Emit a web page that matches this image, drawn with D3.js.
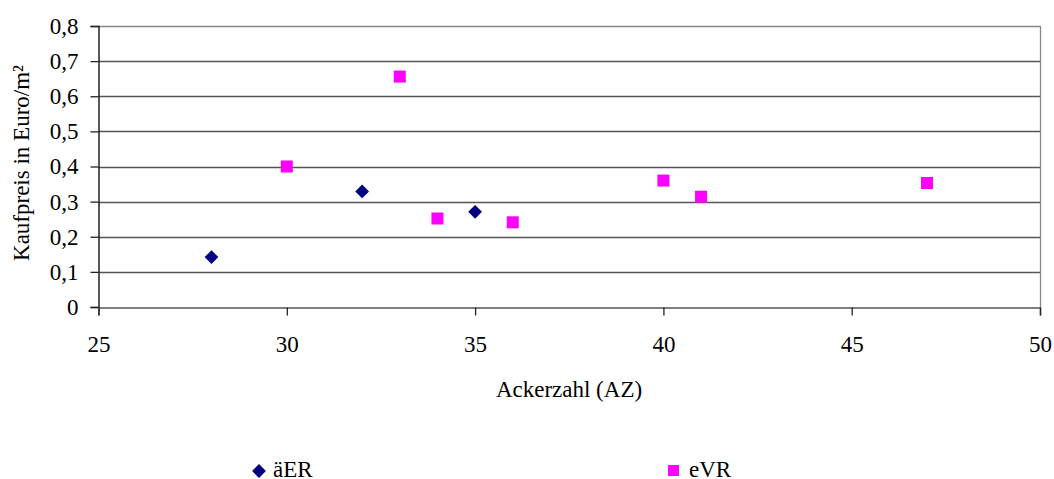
<!DOCTYPE html>
<html>
	<head>
		<meta charset="utf-8">
		<title>Kaufpreis / Ackerzahl</title>
		<style>
			body { margin: 0; background: #fff; }
			text { font-family: "Liberation Serif", "Times New Roman", serif; fill: #000; }
			.tick text { font-size: 23px; }
			.title { font-size: 23px; }
			.legend text { font-size: 23px; }
		</style>
	</head>
	<body>
		<script src="https://cdn.jsdelivr.net/npm/d3@7/dist/d3.min.js"></script>
		<script>
			// data
			var aerX = [28, 32, 35];
			var aerY = [0.142, 0.329, 0.271];
			var evrX = [30, 33, 34, 36, 40, 41, 47];
			var evrY = [0.40, 0.656, 0.252, 0.241, 0.36, 0.314, 0.353];
			var xTicks = [25, 30, 35, 40, 45, 50];
			var yTicks = [0, 0.1, 0.2, 0.3, 0.4, 0.5, 0.6, 0.7, 0.8];

			var width = 1054;
			var height = 479;
			var plotL = 98.5, plotR = 1040, plotT = 26, plotB = 307;

			var svg = d3.select('body').append('svg')
						.attr('width', width)
						.attr('height', height);

			var x = d3.scaleLinear().domain([25, 50]).range([plotL, plotR]);
			var y = d3.scaleLinear().domain([0, 0.8]).range([plotB, plotT]);

			var fmt = function(d) { return d === 0 ? '0' : d3.format('.1f')(d).replace('.', ','); };

			// grid lines
			svg.append('g').selectAll('line').data(yTicks.slice(1, -1))
				.enter().append('line')
				.attr('x1', plotL).attr('x2', plotR)
				.attr('y1', function(d) { return Math.round(y(d)) + 0.5; })
				.attr('y2', function(d) { return Math.round(y(d)) + 0.5; })
				.attr('stroke', '#555').attr('stroke-width', 1.3);

			// plot border (top/right)
			svg.append('path')
				.attr('d', 'M' + plotL + ',' + (plotT + 0.5) + 'H' + (plotR + 0.5) + 'V' + plotB)
				.attr('fill', 'none').attr('stroke', '#888').attr('stroke-width', 1.3);

			var yAxis = svg.append('g')
				.attr('transform', 'translate(' + plotL + ',0)')
				.call(d3.axisLeft(y).tickValues(yTicks).tickFormat(fmt).tickSize(8).tickPadding(12));
			var xAxis = svg.append('g')
				.attr('transform', 'translate(0,' + (plotB + 0.5) + ')')
				.call(d3.axisBottom(x).tickValues(xTicks).tickFormat(d3.format('d')).tickSize(8).tickPadding(20));

			[yAxis, xAxis].forEach(function(a) {
				a.select('.domain').attr('stroke', '#222').attr('stroke-width', 1.5);
				a.selectAll('.tick line').attr('stroke', '#222').attr('stroke-width', 1.3);
				a.selectAll('.tick text').attr('font-family', null).attr('font-size', null);
			});
			xAxis.select('.domain').attr('stroke', '#555');

			// axis titles
			svg.append('text').attr('class', 'title')
				.attr('x', 569).attr('y', 397)
				.attr('text-anchor', 'middle')
				.text('Ackerzahl (AZ)');
			svg.append('text').attr('class', 'title')
				.attr('transform', 'translate(29,163) rotate(-90)')
				.attr('text-anchor', 'middle')
				.text('Kaufpreis in Euro/m²');

			var diamond = d3.symbol().type(d3.symbolSquare).size(95);

			// series
			svg.append('g').selectAll('path').data(aerX)
				.enter().append('path')
				.attr('d', diamond)
				.attr('transform', function(d, i) { return 'translate(' + x(d) + ',' + y(aerY[i]) + ') rotate(45)'; })
				.attr('fill', '#000080');

			svg.append('g').selectAll('rect').data(evrX)
				.enter().append('rect')
				.attr('x', function(d) { return x(d) - 6; })
				.attr('y', function(d, i) { return y(evrY[i]) - 6; })
				.attr('width', 12).attr('height', 12)
				.attr('fill', '#ff00ff');

			// legend
			var legend = svg.append('g').attr('class', 'legend');
			legend.append('path').attr('d', diamond)
				.attr('transform', 'translate(259,471) rotate(45)')
				.attr('fill', '#000080');
			legend.append('text').attr('x', 273).attr('y', 477).text('äER');
			legend.append('rect').attr('x', 668).attr('y', 465).attr('width', 11).attr('height', 11)
				.attr('fill', '#ff00ff');
			legend.append('text').attr('x', 689).attr('y', 477).text('eVR');
		</script>
	</body>
</html>
